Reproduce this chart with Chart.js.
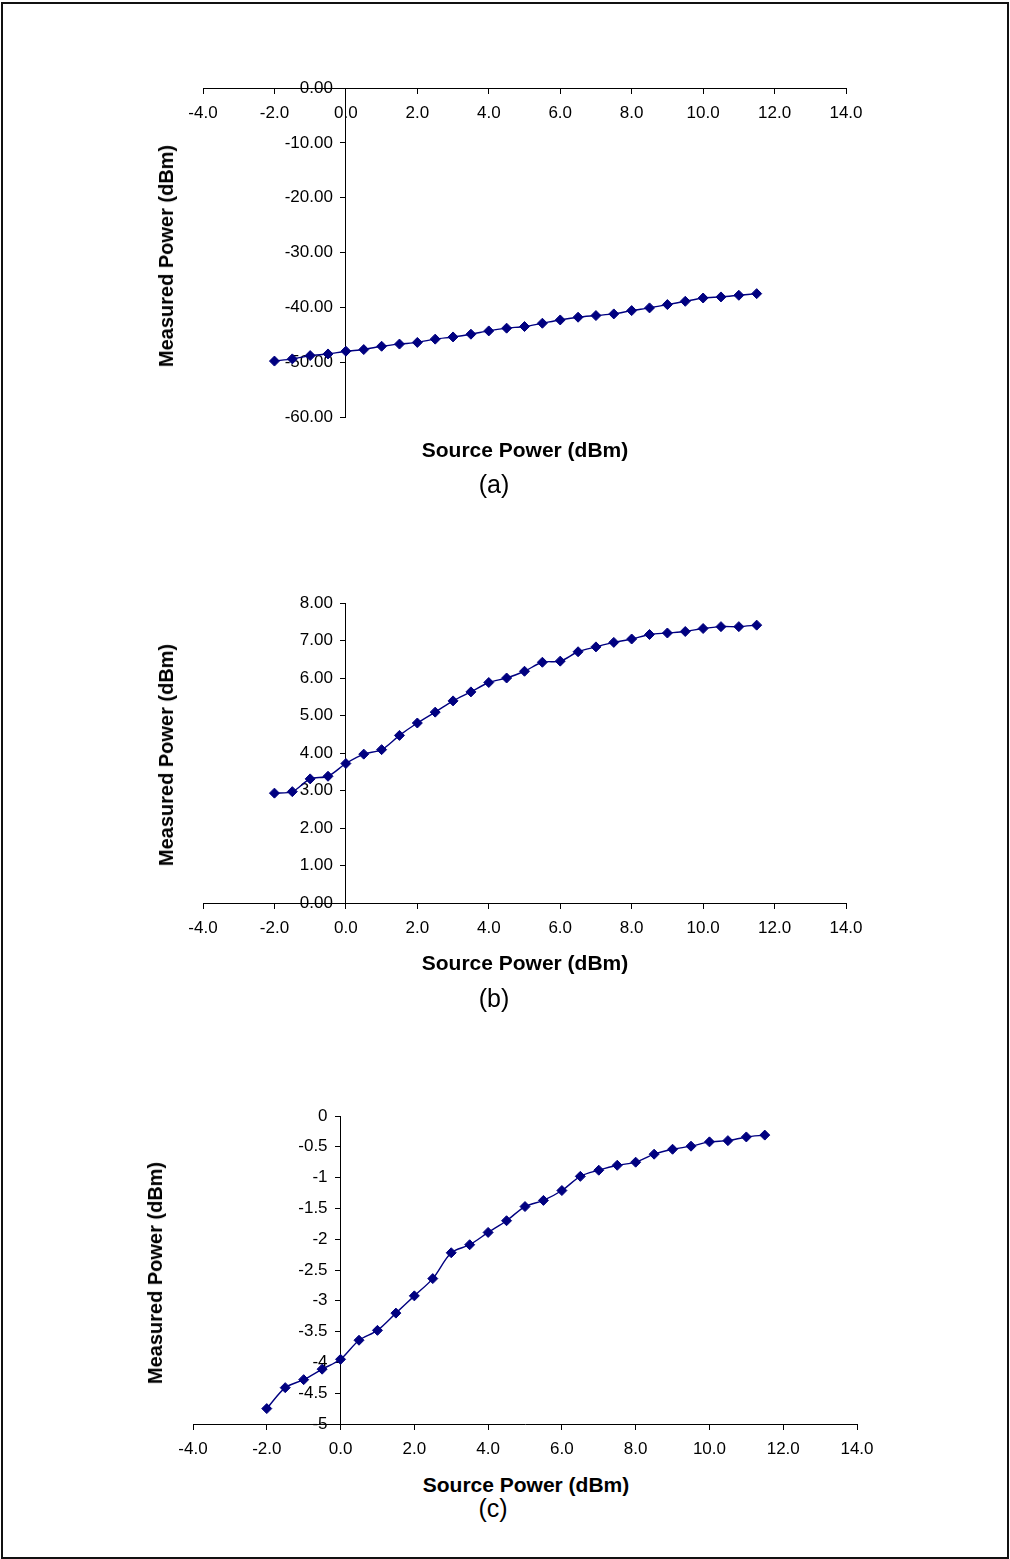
<!DOCTYPE html>
<html>
<head>
<meta charset="utf-8">
<title>Measured vs Source Power</title>
<script src="https://cdn.jsdelivr.net/npm/chart.js@4.4.0/dist/chart.umd.min.js"></script>
<style>
  html, body { margin: 0; padding: 0; background: #fff; }
  #page { position: relative; width: 1010px; height: 1559px; overflow: hidden; }
  #frame { position: absolute; left: 1px; top: 2px; width: 1004px; height: 1553px; border: 2px solid #111; }
  canvas { position: absolute; left: 0; }
  .lbl { position: absolute; transform: translate(-50%, -50%); white-space: nowrap;
         font-family: "Liberation Sans", Arial, sans-serif; color: #000; line-height: 1; }
  .xt { font-weight: bold; font-size: 21px; }
  .yt { font-weight: bold; font-size: 20px; transform: translate(-50%, -50%) rotate(-90deg); }
  .cap { font-size: 25px; }
</style>
</head>
<body>
<div id="page">
  <div id="frame"></div>

  <canvas id="chartA" width="1010" height="420" style="top:40px"></canvas>
  <div class="lbl yt" style="left:166px; top:256px">Measured Power (dBm)</div>
  <div class="lbl xt" style="left:525px; top:449px">Source Power (dBm)</div>
  <div class="lbl cap" style="left:494px; top:484px">(a)</div>

  <canvas id="chartB" width="1010" height="390" style="top:570px"></canvas>
  <div class="lbl yt" style="left:166px; top:755px">Measured Power (dBm)</div>
  <div class="lbl xt" style="left:525px; top:962px">Source Power (dBm)</div>
  <div class="lbl cap" style="left:494px; top:998px">(b)</div>

  <canvas id="chartC" width="1010" height="380" style="top:1090px"></canvas>
  <div class="lbl yt" style="left:155px; top:1273px">Measured Power (dBm)</div>
  <div class="lbl xt" style="left:526px; top:1484px">Source Power (dBm)</div>
  <div class="lbl cap" style="left:493px; top:1508px">(c)</div>
</div>

<script>
const FONT = '"Liberation Sans", Arial, sans-serif';
const NAVY = '#000080';

// source power sweep (dBm), same for all three measurements
const sourcePower = [-2, -1.5, -1, -0.5, 0, 0.5, 1, 1.5, 2, 2.5, 3, 3.5, 4, 4.5,
                     5, 5.5, 6, 6.5, 7, 7.5, 8, 8.5, 9, 9.5, 10, 10.5, 11, 11.5];

const measuredA = [-49.8, -49.4, -48.8, -48.5, -48.0, -47.7, -47.1, -46.7, -46.4, -45.8,
                   -45.4, -44.9, -44.3, -43.8, -43.5, -42.9, -42.3, -41.8, -41.5, -41.2,
                   -40.6, -40.1, -39.5, -38.9, -38.3, -38.1, -37.8, -37.5];

const measuredB = [2.93, 2.97, 3.31, 3.38, 3.72, 3.97, 4.09, 4.47, 4.80, 5.09,
                   5.39, 5.63, 5.88, 6.00, 6.18, 6.42, 6.45, 6.70, 6.83, 6.95,
                   7.04, 7.16, 7.20, 7.24, 7.32, 7.37, 7.37, 7.41];

const measuredC = [-4.75, -4.41, -4.28, -4.11, -3.95, -3.64, -3.48, -3.20, -2.92, -2.64,
                   -2.22, -2.09, -1.89, -1.70, -1.47, -1.37, -1.21, -0.98, -0.88, -0.80,
                   -0.75, -0.62, -0.54, -0.49, -0.42, -0.40, -0.34, -0.31];

// axis ranges: [min, max, step]
const xRange = [-4, 14, 2];
const yRangeA = [-60, 0, 10];
const yRangeB = [0, 8, 1];
const yRangeC = [-5, 0, 0.5];

// A y axis placed at x=0 draws its labels flush against the axis line,
// so push them left past the tick marks before the first draw.
const yLabelGap = {
    id: 'yLabelGap',
    beforeDraw(chart, args, opts) {
        const items = chart.scales.y.getLabelItems(chart.chartArea);
        items.forEach(item => {
            if (item._gapDone) return;
            item.options.translation[0] -= opts.gap;
            item._gapDone = true;
        });
    }
};

function makePanel(id, values, xr, yr, yFmt, xAxisAt, pad) {
    const tickFont = { family: FONT, size: 17 };
    return new Chart(document.getElementById(id), {
        type: 'scatter',
        data: {
            datasets: [{
                data: sourcePower.map((x, i) => ({ x: x, y: values[i] })),
                borderColor: NAVY,
                backgroundColor: NAVY,
                borderWidth: 1.4,
                showLine: true,
                tension: 0.3,
                pointStyle: 'rectRot',
                pointRadius: 5,
                pointBorderWidth: 1,
                pointBackgroundColor: NAVY,
                pointBorderColor: NAVY,
                clip: false
            }]
        },
        plugins: [yLabelGap],
        options: {
            responsive: false,
            animation: false,
            events: [],
            layout: { padding: pad },
            plugins: {
                legend: { display: false },
                tooltip: { enabled: false },
                yLabelGap: { gap: 13 }
            },
            scales: {
                x: {
                    type: 'linear',
                    min: xr[0], max: xr[1],
                    position: { y: xAxisAt },
                    afterFit: s => { s.height = 0; },
                    ticks: { stepSize: xr[2], callback: v => v.toFixed(1), color: '#000',
                             font: tickFont, padding: 10, maxRotation: 0, autoSkip: false },
                    grid: { drawOnChartArea: false, tickLength: 5, color: '#000' },
                    border: { color: '#000', width: 1 }
                },
                y: {
                    type: 'linear',
                    min: yr[0], max: yr[1],
                    position: { x: 0 },
                    afterFit: s => { s.width = 0; },
                    ticks: { stepSize: yr[2], callback: yFmt, color: '#000',
                             font: tickFont, autoSkip: false },
                    grid: { drawOnChartArea: false, tickLength: 5, color: '#000' },
                    border: { color: '#000', width: 1 }
                }
            }
        }
    });
}

makePanel('chartA', measuredA, xRange, yRangeA, v => v.toFixed(2), 0,
          { left: 203, right: 164, top: 48, bottom: 43 });
makePanel('chartB', measuredB, xRange, yRangeB, v => v.toFixed(2), 0,
          { left: 203, right: 164, top: 33, bottom: 57 });
makePanel('chartC', measuredC, xRange, yRangeC, v => String(+v.toFixed(1)), -5,
          { left: 193, right: 153, top: 26, bottom: 46 });
</script>
</body>
</html>
